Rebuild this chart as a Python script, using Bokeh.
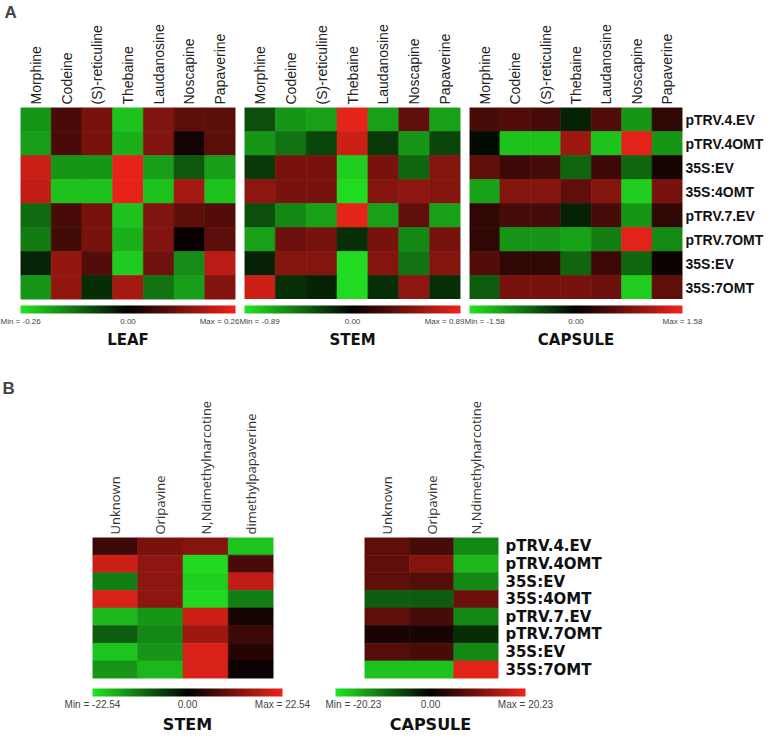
import numpy as np
from bokeh.plotting import figure
from bokeh.models import ColumnDataSource, LinearColorMapper, ColorBar, FixedTicker, Title
from bokeh.layouts import column, row
from bokeh.embed import file_html
from bokeh.resources import INLINE

# ---------------- data ----------------
lines = ["pTRV.4.EV", "pTRV.4OMT", "35S:EV", "35S:4OMT",
         "pTRV.7.EV", "pTRV.7OMT", "35S:EV", "35S:7OMT"]

compounds_a = ["Morphine", "Codeine", "(S)-reticuline", "Thebaine",
               "Laudanosine", "Noscapine", "Papaverine"]
compounds_b_stem = ["Unknown", "Oripavine", "N,Ndimethylnarcotine", "dimethylpapaverine"]
compounds_b_capsule = ["Unknown", "Oripavine", "N,Ndimethylnarcotine"]

leaf_max = 0.26
leaf_vals = [
    [-0.17, 0.08, 0.13, -0.22, 0.14, 0.10, 0.10],
    [-0.18, 0.08, 0.13, -0.20, 0.14, 0.02, 0.10],
    [0.22, -0.17, -0.17, 0.25, -0.18, -0.10, -0.18],
    [0.21, -0.22, -0.22, 0.25, -0.22, 0.18, -0.22],
    [-0.12, 0.08, 0.13, -0.22, 0.14, 0.10, 0.09],
    [-0.14, 0.07, 0.13, -0.20, 0.14, 0.01, 0.10],
    [-0.04, 0.16, 0.09, -0.23, 0.12, -0.16, 0.20],
    [-0.17, 0.16, -0.05, 0.18, -0.13, -0.18, 0.14],
]

stem_max = 0.89
stem_vals = [
    [-0.31, -0.58, -0.62, 0.85, -0.62, 0.36, -0.62],
    [-0.58, -0.45, -0.27, 0.76, -0.22, -0.58, -0.27],
    [-0.22, 0.45, 0.45, -0.80, 0.45, -0.40, 0.49],
    [0.53, 0.45, 0.45, -0.85, 0.49, 0.53, 0.49],
    [-0.31, -0.53, -0.62, 0.85, -0.62, 0.36, -0.62],
    [-0.62, 0.40, 0.45, -0.18, 0.45, -0.53, 0.45],
    [-0.13, 0.49, 0.49, -0.85, 0.49, -0.45, 0.49],
    [0.76, -0.18, -0.13, -0.85, -0.18, 0.53, -0.18],
]

capsule_max = 1.58
capsule_vals = [
    [0.47, 0.55, 0.47, -0.24, 0.55, -1.03, 0.32],
    [-0.08, -1.34, -1.34, 1.03, -1.34, 1.50, -1.03],
    [0.63, 0.40, 0.47, -0.71, 0.40, -0.71, 0.16],
    [-1.11, 0.87, 0.87, 0.63, 0.87, -1.42, 0.79],
    [0.32, 0.47, 0.47, -0.24, 0.47, -1.03, 0.32],
    [0.32, -1.03, -1.03, -1.11, -0.87, 1.50, -0.95],
    [0.55, 0.32, 0.32, -0.71, 0.40, -0.71, 0.08],
    [-0.63, 0.79, 0.79, 0.79, 0.71, -1.42, 0.63],
]

b_stem_max = 22.54
b_stem_vals = [
    [5.6, 11.3, 12.4, -19.2],
    [19.2, 13.5, -21.4, 6.8],
    [-12.4, 13.5, -20.3, 18.0],
    [20.3, 13.5, -21.4, -12.4],
    [-18.0, -14.7, 19.2, 2.3],
    [-9.0, -13.5, 14.7, 5.6],
    [-19.2, -14.7, 20.3, 3.4],
    [-14.7, -18.0, 20.3, 1.1],
]

b_capsule_max = 20.23
b_capsule_vals = [
    [8.1, 6.1, -12.1],
    [8.1, 11.1, -16.2],
    [8.1, 7.1, -12.1],
    [-8.1, -8.1, 9.1],
    [8.1, 6.1, -12.1],
    [2.0, 2.0, -4.0],
    [7.1, 6.1, -12.1],
    [-17.2, -17.2, 19.2],
]

# ---------------- styling helpers ----------------
GREEN = (34, 228, 34)
RED = (238, 36, 26)


def build_palette(n=255):
    pal = []
    for i in range(n):
        t = 2 * i / (n - 1) - 1
        c = GREEN if t < 0 else RED
        a = abs(t)
        pal.append("#%02x%02x%02x" % tuple(int(round(ch * a)) for ch in c))
    return pal


PALETTE = build_palette()


def unique_rows(labels):
    out = []
    for l in labels:
        k = l
        while k in out:
            k += " "
        out.append(k)
    return out


def heatmap(cols, vals, vmax, fw, fh, bl, br, bt, bb,
            col_font, col_size, col_color,
            show_rows=False, row_font="Liberation Sans", row_size="14px", row_standoff=3,
            letter=None, letter_offset=0):
    rows_u = unique_rows(lines)
    xs, ys, vs = [], [], []
    for i, r in enumerate(rows_u):
        for j, c in enumerate(cols):
            xs.append(c)
            ys.append(r)
            vs.append(vals[i][j])
    src = ColumnDataSource(dict(x=xs, y=ys, v=vs))
    mapper = LinearColorMapper(palette=PALETTE, low=-vmax, high=vmax)
    p = figure(x_range=cols, y_range=rows_u[::-1],
               frame_width=fw, frame_height=fh,
               min_border_left=bl, min_border_right=br,
               min_border_top=bt, min_border_bottom=bb,
               toolbar_location=None, tools="", output_backend="svg",
               x_axis_location="above",
               y_axis_location="right" if show_rows else None,
               title=None)
    p.rect(x="x", y="y", width=1, height=1, source=src,
           fill_color={"field": "v", "transform": mapper},
           line_color={"field": "v", "transform": mapper}, line_width=0.6)
    p.grid.visible = False
    p.outline_line_color = None
    ax = p.xaxis[0]
    ax.major_label_orientation = "vertical"
    ax.axis_line_color = None
    ax.major_tick_line_color = None
    ax.major_tick_in = 0
    ax.major_tick_out = 0
    ax.major_label_standoff = 3
    ax.major_label_text_font = col_font
    ax.major_label_text_font_size = col_size
    ax.major_label_text_color = col_color
    if show_rows:
        ay = p.yaxis[0]
        ay.axis_line_color = None
        ay.major_tick_line_color = None
        ay.major_tick_in = 0
        ay.major_tick_out = 0
        ay.major_label_standoff = row_standoff
        ay.major_label_text_font = row_font
        ay.major_label_text_font_size = row_size
        ay.major_label_text_font_style = "bold"
        ay.major_label_text_color = "#111111"
    if letter:
        p.add_layout(Title(text=letter, align="left", offset=letter_offset,
                           text_font="Liberation Sans", text_font_size="17px",
                           text_font_style="bold", standoff=0), "above")
    return p


def strip(vmax, fw, bl, br, bt, bb, caption, cap_font_size, cap_offset,
          label_size, label_standoff):
    mapper = LinearColorMapper(palette=PALETTE, low=-vmax, high=vmax)
    p = figure(frame_width=fw, frame_height=1,
               min_border_left=bl, min_border_right=br,
               min_border_top=bt, min_border_bottom=bb,
               toolbar_location=None, tools="", output_backend="svg",
               x_axis_location=None, y_axis_location=None, title=None)
    p.grid.visible = False
    p.outline_line_color = None
    lo_txt = "Min = %.2f" % (-vmax)
    hi_txt = "Max = %.2f" % vmax
    cb = ColorBar(color_mapper=mapper, orientation="horizontal",
                  width=fw, height=8, padding=0, margin=0,
                  location="top_left",
                  ticker=FixedTicker(ticks=[-vmax, 0.0, vmax], minor_ticks=[]),
                  major_label_overrides={-vmax: lo_txt, 0.0: "0.00", vmax: hi_txt},
                  major_tick_line_color=None, major_tick_in=0,
                  bar_line_color=None, border_line_color=None,
                  background_fill_color=None,
                  label_standoff=label_standoff,
                  major_label_text_font="Liberation Sans",
                  major_label_text_font_size=label_size,
                  major_label_text_color="#444444")
    p.add_layout(cb, "below")
    p.add_layout(Title(text=caption, align="center", offset=cap_offset,
                       text_font="DejaVu Sans", text_font_size=cap_font_size,
                       text_font_style="bold", text_color="#111111", standoff=0), "below")
    return p


# ---------------- panel A ----------------
A_BT, A_FH = 105, 192
leaf_fig = heatmap(compounds_a, leaf_vals, leaf_max, 215, A_FH, 20, 4, A_BT, 2,
                   "Liberation Sans", "14px", "#222222", letter="A", letter_offset=-16)
stem_fig = heatmap(compounds_a, stem_vals, stem_max, 216, A_FH, 5, 4, A_BT, 2,
                   "Liberation Sans", "14px", "#222222")
cap_fig = heatmap(compounds_a, capsule_vals, capsule_max, 213, A_FH, 5, 77, A_BT, 2,
                  "Liberation Sans", "14px", "#222222", show_rows=True,
                  row_font="Liberation Sans", row_size="14px", row_standoff=3)

leaf_cb = strip(leaf_max, 215, 20, 4, 3, 50, "LEAF", "15px", 0, "8px", 3)
stem_cb = strip(stem_max, 216, 5, 4, 3, 50, "STEM", "15px", 0, "8px", 3)
cap_cb = strip(capsule_max, 213, 5, 77, 3, 50, "CAPSULE", "15px", 0, "8px", 3)

# ---------------- panel B ----------------
B_BT, B_FH = 182, 141
bstem_fig = heatmap(compounds_b_stem, b_stem_vals, b_stem_max, 181, B_FH, 92, 81, B_BT, 2,
                    "Open Sans", "13px", "#333333", letter="B", letter_offset=-90)
bcap_fig = heatmap(compounds_b_capsule, b_capsule_vals, b_capsule_max, 134, B_FH, 10, 200, B_BT, 2,
                   "Open Sans", "13px", "#333333", show_rows=True,
                   row_font="DejaVu Sans", row_size="15px", row_standoff=7)

bstem_cb = strip(b_stem_max, 190, 92, 43, 7, 38, "STEM", "16px", -3, "10px", 2)
bcap_cb = strip(b_capsule_max, 190, 10, 100, 7, 38, "CAPSULE", "16px", 25, "10px", 2)

layout = column(row(leaf_fig, stem_fig, cap_fig),
                row(leaf_cb, stem_cb, cap_cb),
                row(bstem_fig, bcap_fig),
                row(bstem_cb, bcap_cb))

open("out.html", "w").write(file_html(layout, INLINE))
